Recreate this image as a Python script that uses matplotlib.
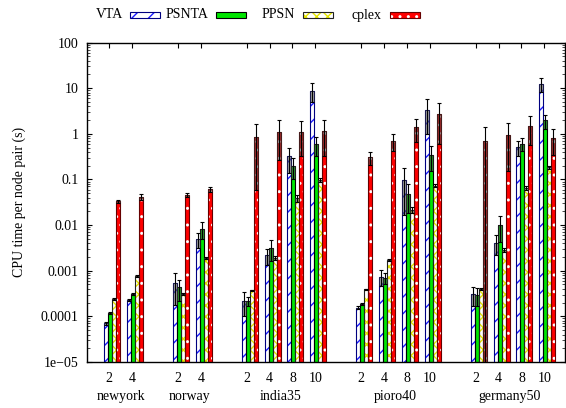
import numpy as np
import matplotlib
matplotlib.use("Agg")
import matplotlib.pyplot as plt
from matplotlib.patches import Rectangle
from matplotlib.ticker import LogLocator, FixedLocator, FixedFormatter, NullFormatter

plt.rcParams['font.family'] = ['Liberation Serif', 'DejaVu Serif']
plt.rcParams['font.size'] = 10
plt.rcParams['hatch.linewidth'] = 1.0

# Instancias y numero de nodos por instancia
groups = ['newyork', 'norway', 'india35', 'pioro40', 'germany50']
sizes = [[2, 4], [2, 4], [2, 4, 8, 10], [2, 4, 8, 10], [2, 4, 8, 10]]

series = ['VTA', 'PSNTA', 'PPSN', 'cplex']

# Tiempo medio por par de nodos (s) y su desviacion
vta = [7.0e-5, 2.3e-4, 5.3e-4, 4.9e-3, 2.2e-4, 2.2e-3, 0.32, 8.8,
       1.55e-4, 7.4e-4, 0.097, 3.37, 3.05e-4, 4.15e-3, 0.51, 12.6]
vta_err = [0.5e-5, 1.2e-5, 3.5e-4, 1.8e-3, 1.2e-4, 0.85e-3, 0.18, 3.9,
           1e-5, 2.8e-4, 0.08, 2.4, 1.4e-4, 1.95e-3, 0.19, 4.4]

psnta = [1.16e-4, 3.05e-4, 4.3e-4, 8.4e-3, 2.2e-4, 3.1e-3, 0.20, 0.60,
         1.84e-4, 7.0e-4, 0.048, 0.35, 2.9e-4, 0.010, 0.60, 1.96]
psnta_err = [0.6e-5, 1.5e-5, 2.1e-4, 3.5e-3, 0.5e-4, 1.5e-3, 0.1, 0.27,
             1e-5, 1.8e-4, 0.03, 0.2, 1.2e-4, 5.8e-3, 0.19, 0.66]

ppsn = [2.44e-4, 7.7e-4, 3.14e-4, 1.94e-3, 3.7e-4, 1.88e-3, 0.0385, 0.099,
        3.92e-4, 1.73e-3, 0.0217, 0.073, 3.9e-4, 2.82e-3, 0.064, 0.185]
ppsn_err = [1e-5, 3e-5, 1.5e-5, 1e-4, 1.5e-5, 2e-4, 0.006, 0.01,
            1.5e-5, 1e-4, 0.003, 0.005, 2e-5, 3e-4, 0.006, 0.015]

cplex = [0.033, 0.042, 0.046, 0.061, 0.86, 1.12, 1.12, 1.18,
         0.307, 0.70, 1.4, 2.66, 0.71, 0.95, 1.5, 0.82]
cplex_err = [0.003, 0.006, 0.004, 0.007, 0.8, 0.85, 0.8, 0.85,
             0.1, 0.28, 0.73, 2.05, 0.73, 0.8, 0.92, 0.48]

ytick_vals = [1e-5, 1e-4, 1e-3, 1e-2, 1e-1, 1, 10, 100]
ytick_text = ['1e\u221205', '0.0001', '0.001', '0.01', '0.1', '1', '10', '100']

# Posiciones en el eje x: un hueco entre instancias
pos = []
labels = []
centers = []
p = 0
for g, s in zip(groups, sizes):
    start = p
    for n in s:
        pos.append(p)
        labels.append(str(n))
        p += 1
    centers.append((start + p - 1) / 2)
    p += 1
x = np.array(pos, dtype=float)

# Estilos: (relleno, trama, color de trama, borde)
styles = [
    ('white', '//', '#1a1aff', '#000080'),
    ('#00e600', None, '#00e600', 'black'),
    ('white', 'xxx', '#e6e600', '#222222'),
    ('#ff0000', '..', 'white', '#660000'),
]
data = [(vta, vta_err), (psnta, psnta_err), (ppsn, ppsn_err), (cplex, cplex_err)]

fig = plt.figure(figsize=(5.66, 4.08), dpi=100)
ax = fig.add_axes([87 / 566, 46 / 408, 478 / 566, 319.5 / 408])
ax.set_yscale('log')

floor = 1e-6
w = 0.175
for i, ((vals, errs), (face, hatch, hcol, edge)) in enumerate(zip(data, styles)):
    vals = np.array(vals)
    errs = np.array(errs)
    xs = x - 0.22 + w / 2 + i * w
    ax.bar(xs, vals - floor, w, bottom=floor, color=face, hatch=hatch,
           edgecolor=hcol, linewidth=0, zorder=2)
    ax.bar(xs, vals - floor, w, bottom=floor, fill=False,
           edgecolor=edge, linewidth=0.8, zorder=3)
    lo = np.maximum(vals - errs, floor)
    # caja gris de la parte inferior de la barra de error
    ax.bar(xs, vals - lo, w, bottom=lo, color='0.3', alpha=0.55,
           edgecolor='0.15', linewidth=0.6, zorder=4)
    ax.errorbar(xs, vals, yerr=[vals - lo, errs], fmt='none', ecolor='black',
                elinewidth=0.8, capsize=1.6, capthick=0.8, zorder=5)

ax.set_xlim(-0.97, 19.9)
ax.set_ylim(1e-5, 100)

ax.xaxis.set_major_locator(FixedLocator(x))
ax.set_xticklabels(labels)
ax.yaxis.set_major_locator(FixedLocator(ytick_vals))
ax.yaxis.set_major_formatter(FixedFormatter(ytick_text))
ax.yaxis.set_minor_locator(LogLocator(base=10, subs=np.arange(2, 10), numticks=20))
ax.yaxis.set_minor_formatter(NullFormatter())
ax.tick_params(which='major', direction='in', length=3.5, width=0.8,
               top=True, right=True, labelsize=10)
ax.tick_params(which='minor', direction='in', length=2, width=0.5,
               right=True)
ax.tick_params(axis='x', pad=7)
ax.tick_params(axis='y', pad=6)
for sp in ax.spines.values():
    sp.set_linewidth(1.0)

for c, g in zip(centers, groups):
    ax.text(c, -0.108, g, transform=ax.get_xaxis_transform(),
            ha='center', va='center', fontsize=10)

ax.set_ylabel('CPU time per node pair (s)', fontsize=10)
ax.yaxis.set_label_coords(-0.128, 0.5)

# Leyenda arriba, texto antes de la muestra
leg_text_right = [123, 208, 295, 381]
leg_box_left = [130, 216, 303, 390]
for name, (face, hatch, hcol, edge), tx, bx in zip(series, styles, leg_text_right, leg_box_left):
    fig.text(tx / 566, 1 - 15 / 408, name, ha='right', va='center', fontsize=10)
    r1 = Rectangle((bx / 566, 1 - 18 / 408), 30 / 566, 6 / 408, transform=fig.transFigure,
                   facecolor=face, hatch=hatch, edgecolor=hcol, linewidth=0)
    r2 = Rectangle((bx / 566, 1 - 18 / 408), 30 / 566, 6 / 408, transform=fig.transFigure,
                   fill=False, edgecolor=edge, linewidth=0.8)
    fig.add_artist(r1)
    fig.add_artist(r2)

fig.savefig('out.png', dpi=100)
